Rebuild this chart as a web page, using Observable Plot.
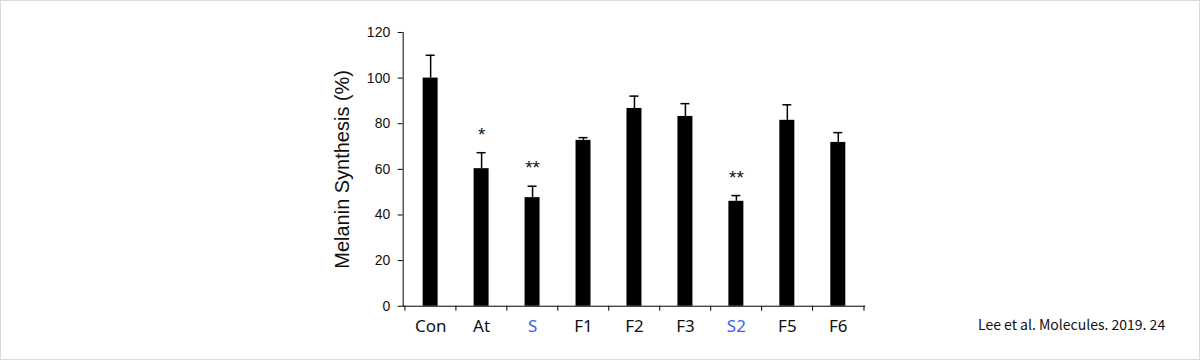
<!DOCTYPE html>
<html>
<head>
<meta charset="utf-8">
<script src="https://cdn.jsdelivr.net/npm/d3@7"></script>
<script src="https://cdn.jsdelivr.net/npm/@observablehq/plot@0.6"></script>
<style>
  html, body { margin: 0; padding: 0; background: #fff; }
  #wrap { position: relative; width: 1200px; height: 360px; box-sizing: border-box; border: 1px solid #dadada; overflow: hidden; }
  #chart { position: absolute; left: -1px; top: -1px; }
  #caption { position: absolute; left: 977px; top: 313px; font-family: "Noto Sans CJK KR", "Noto Sans", sans-serif; font-size: 14px; color: #111; white-space: nowrap; }
</style>
</head>
<body>
<div id="wrap">
  <div id="chart"></div>
  <div id="caption">Lee et al. Molecules. 2019. 24</div>
</div>
<script>
const categories = ["Con", "At", "S", "F1", "F2", "F3", "S2", "F5", "F6"];
const values = [100, 60.3, 47.6, 72.7, 86.7, 83.2, 46.0, 81.5, 71.8];
const errors = [10.0, 7.0, 5.0, 1.2, 5.4, 5.6, 2.5, 6.8, 4.3];
const significance = ["", "*", "**", "", "", "", "**", "", ""];
const highlighted = ["S", "S2"];
const yTicks = [0, 20, 40, 60, 80, 100, 120];

const data = categories.map((c, i) => ({
  cat: c, value: values[i], top: values[i] + errors[i], sig: significance[i]
}));

const W = 1200, H = 360;
const mL = 403, mR = 334, mT = 32, mB = 54;
const step = (W - mL - mR) / categories.length;
const frameH = H - mT - mB;

const chart = Plot.plot({
  width: W,
  height: H,
  marginLeft: mL,
  marginRight: mR,
  marginTop: mT,
  marginBottom: mB,
  style: { background: "transparent", overflow: "visible" },
  x: { domain: categories, paddingInner: 0.7, paddingOuter: 0.35, label: null },
  y: { domain: [0, 120], label: null },
  marks: [
    Plot.ruleX(data, { x: "cat", y1: "value", y2: "top", stroke: "#000", strokeWidth: 1.5 }),
    Plot.tickY(data, { x: "cat", y: "top", stroke: "#000", strokeWidth: 1.5, insetLeft: 3, insetRight: 3 }),
    Plot.barY(data, { x: "cat", y: "value", fill: "#000" }),
    Plot.text(data.filter(d => d.sig), {
      x: "cat", y: "top", text: "sig", dy: -18,
      fontSize: 19, fontFamily: "Liberation Sans, Arial, sans-serif", fill: "#111"
    }),
    Plot.ruleY([0], { stroke: "#000", strokeWidth: 1 }),
    Plot.frame({ anchor: "left", stroke: "#000" }),
    Plot.axisY({
      ticks: yTicks, tickSize: 5, tickPadding: 8, label: null,
      fontSize: 14, fontFamily: "Liberation Sans, Arial, sans-serif", color: "#111", stroke: "#000"
    }),
    Plot.ruleX(categories, { x: d => d, dx: -step / 2, insetTop: frameH, insetBottom: -5, stroke: "#000" }),
    Plot.ruleX([categories[categories.length - 1]], { x: d => d, dx: step / 2, insetTop: frameH, insetBottom: -5, stroke: "#000" }),
    Plot.axisX({
      tickSize: 0, tickPadding: 14, label: null,
      fontSize: 17, fontFamily: "Noto Sans, Open Sans, sans-serif",
      fill: d => highlighted.includes(d) ? "#3d5cf2" : "#111"
    }),
    Plot.text(["Melanin Synthesis (%)"], {
      frameAnchor: "left", textAnchor: "middle", rotate: -90, dx: -61,
      fontSize: 20, fontFamily: "Liberation Sans, Arial, sans-serif", fill: "#111"
    })
  ]
});
document.getElementById("chart").appendChild(chart);
</script>
</body>
</html>
